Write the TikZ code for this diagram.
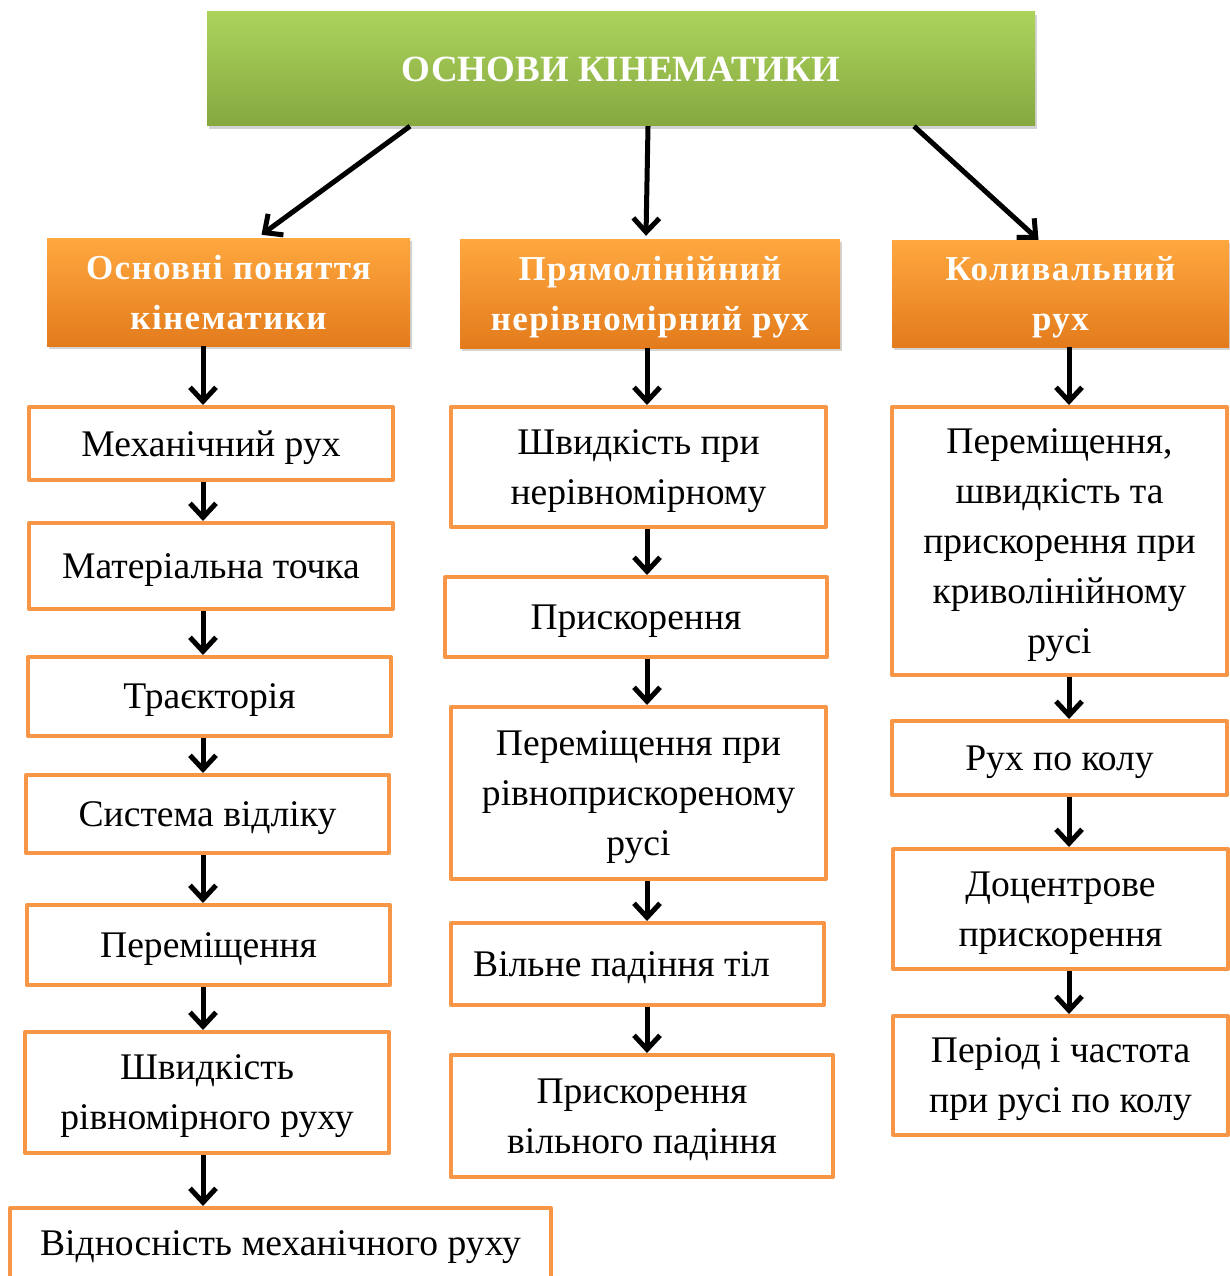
\documentclass[tikz,border=0pt]{standalone}
\usepackage{fontspec}
\setmainfont{Liberation Serif}
\newfontfamily\headfont[LetterSpace=4]{Liberation Serif}
\usepackage{tikz}
\usetikzlibrary{arrows.meta, shadows}

\definecolor{titletop}{HTML}{ABD35C}
\definecolor{titlebot}{HTML}{86A83F}
\definecolor{headtop}{HTML}{FFA83F}
\definecolor{headbot}{HTML}{E37B1C}
\definecolor{boxline}{HTML}{F79646}

\tikzset{
  titlebox/.style={rectangle, top color=titletop, bottom color=titlebot,
    text=white, font=\bfseries\fontsize{37}{45}\selectfont,
    drop shadow={shadow xshift=2pt, shadow yshift=-3pt, opacity=0.35}},
  headbox/.style={rectangle, top color=headtop, bottom color=headbot,
    text=white, align=center, text depth=0pt,
    font=\headfont\bfseries\fontsize{35}{50}\selectfont,
    drop shadow={shadow xshift=2pt, shadow yshift=-3pt, opacity=0.35}},
  itembox/.style={rectangle, draw=boxline, line width=4pt, line join=round,
    fill=white, align=center, text depth=0pt,
    font=\fontsize{37.6}{50}\selectfont},
  arr/.style={line width=5pt, -{Straight Barb[length=14pt, width=26pt]}},
}

\begin{document}
\begin{tikzpicture}[x=1pt, y=1pt]
    \useasboundingbox (0,0) rectangle (1229,-1276);

    % 1. Заголовок
    \node[titlebox, minimum width=828, minimum height=114] (title) at (621,-69) {ОСНОВИ КІНЕМАТИКИ};

    % 2. Розділи
    \node[headbox, minimum width=363, minimum height=108] (h1) at (228.5,-292) {Основні поняття\\кінематики};
    \node[headbox, minimum width=380, minimum height=109] (h2) at (650,-293.5) {Прямолінійний\\нерівномірний рух};
    \node[headbox, minimum width=337, minimum height=107] (h3) at (1060.5,-293.5) {Коливальний\\рух};

    % 3. Ліва колонка
    \node[itembox, minimum width=364, minimum height=73] (l1) at (211,-443.5) {Механічний рух};
    \node[itembox, minimum width=364, minimum height=86] (l2) at (211,-566) {Матеріальна точка};
    \node[itembox, minimum width=363, minimum height=79] (l3) at (209.5,-696.5) {Траєкторія};
    \node[itembox, minimum width=363, minimum height=78] (l4) at (207.5,-814) {Система відліку};
    \node[itembox, minimum width=363, minimum height=80] (l5) at (208.5,-945) {Переміщення};
    \node[itembox, minimum width=364, minimum height=121] (l6) at (207,-1092.5) {Швидкість\\рівномірного руху};
    \node[itembox, minimum width=541, minimum height=70] (l7) at (280.5,-1243) {Відносність механічного руху};

    % 4. Середня колонка
    \node[itembox, minimum width=375, minimum height=120] (m1) at (638.5,-467) {Швидкість при\\нерівномірному};
    \node[itembox, minimum width=382, minimum height=80] (m2) at (636,-617) {Прискорення};
    \node[itembox, minimum width=375, minimum height=172] (m3) at (638.5,-793) {Переміщення при\\рівноприскореному\\русі};
    \node[itembox, minimum width=373, minimum height=82] (m4) at (637.5,-964) {Вільне падіння тіл\hspace*{32pt}};
    \node[itembox, minimum width=382, minimum height=122] (m5) at (642,-1116) {Прискорення\\вільного падіння};

    % 5. Права колонка
    \node[itembox, minimum width=335, minimum height=268] (r1) at (1059.5,-541) {Переміщення,\\швидкість та\\прискорення при\\криволінійному\\русі};
    \node[itembox, minimum width=335, minimum height=74] (r2) at (1059.5,-758) {Рух по колу};
    \node[itembox, minimum width=335, minimum height=120] (r3) at (1060.5,-909) {Доцентрове\\прискорення};
    \node[itembox, minimum width=335, minimum height=119] (r4) at (1060.5,-1075.5) {Період і частота\\при русі по колу};

    % 6. Стрілки
    \coordinate (lc) at (203,0);
    \coordinate (mc) at (647,0);
    \coordinate (rc) at (1069,0);
    \draw[arr] ([xshift=-211pt]title.south) -- ([xshift=33pt, yshift=3pt]h1.north);
    \draw[arr] ([xshift=27pt]title.south) -- ([xshift=-4pt, yshift=3pt]h2.north);
    \draw[arr] ([xshift=293pt]title.south) -- ([xshift=-22pt]h3.north);

    \draw[arr] (h1.south -| lc) -- (l1.north -| lc);
    \draw[arr] (l1.south -| lc) -- (l2.north -| lc);
    \draw[arr] (l2.south -| lc) -- (l3.north -| lc);
    \draw[arr] (l3.south -| lc) -- (l4.north -| lc);
    \draw[arr] (l4.south -| lc) -- (l5.north -| lc);
    \draw[arr] (l5.south -| lc) -- (l6.north -| lc);
    \draw[arr] (l6.south -| lc) -- (l7.north -| lc);

    \draw[arr] (h2.south -| mc) -- (m1.north -| mc);
    \draw[arr] (m1.south -| mc) -- (m2.north -| mc);
    \draw[arr] (m2.south -| mc) -- (m3.north -| mc);
    \draw[arr] (m3.south -| mc) -- (m4.north -| mc);
    \draw[arr] (m4.south -| mc) -- (m5.north -| mc);

    \draw[arr] (h3.south -| rc) -- (r1.north -| rc);
    \draw[arr] (r1.south -| rc) -- (r2.north -| rc);
    \draw[arr] (r2.south -| rc) -- (r3.north -| rc);
    \draw[arr] (r3.south -| rc) -- (r4.north -| rc);
\end{tikzpicture}
\end{document}
